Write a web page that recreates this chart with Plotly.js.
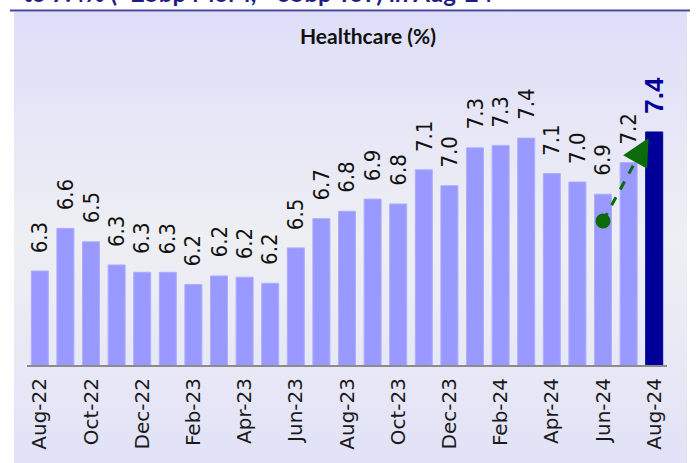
<!DOCTYPE html>
<html>
<head>
<meta charset="utf-8">
<script src="https://cdn.plot.ly/plotly-3.0.1.min.js"></script>
<style>
  html, body { margin: 0; padding: 0; background: #ffffff; }
  #wrap { position: relative; width: 700px; height: 463px; overflow: hidden; }
  #bg { position: absolute; left: 14px; top: 12px; width: 673px; height: 451px;
        background: linear-gradient(to bottom, #dedef9 0%, #e8e8f6 30%, #eeeff3 50%, #eaeaf5 70%, #e2e2f8 100%); }
  #chart { position: absolute; left: 0; top: 0; width: 700px; height: 463px; }
</style>
</head>
<body>
<div id="wrap">
  <div id="bg"></div>
  <div id="chart"></div>
</div>
<script>
// ---- data ----
const months = ['Aug-22','Sep-22','Oct-22','Nov-22','Dec-22','Jan-23','Feb-23','Mar-23','Apr-23','May-23',
                'Jun-23','Jul-23','Aug-23','Sep-23','Oct-23','Nov-23','Dec-23','Jan-24','Feb-24','Mar-24',
                'Apr-24','May-24','Jun-24','Jul-24','Aug-24'];
const values = [6.27, 6.62, 6.51, 6.32, 6.26, 6.26, 6.16, 6.23, 6.22, 6.17,
                6.46, 6.70, 6.76, 6.86, 6.82, 7.10, 6.97, 7.28, 7.30, 7.36,
                7.07, 7.00, 6.90, 7.16, 7.41];
const tickMonths = ['Aug-22','Oct-22','Dec-22','Feb-23','Apr-23','Jun-23','Aug-23','Oct-23','Dec-23',
                    'Feb-24','Apr-24','Jun-24','Aug-24'];
// trend arrow (Jun-24 -> Aug-24), x as category index position: start, head base, tip
const arrowX = [22, 23.3, 23.78];
const arrowY = [6.68, 7.18, 7.36];
const chartTitle = 'Healthcare (%)';
const headline = 'to 7.4% (+25bp MoM; +65bp YoY) in Aug-24';

// ---- styles ----
const last = values.length - 1;
const barColors = values.map((v, i) => i === last ? '#000099' : '#9999ff');
const lineColors = values.map((v, i) => i === last ? '#000099' : '#aeaeff');
const green = '#0b6b0b';

const W = 700, H = 463;
const M = {l: 27, r: 33, t: 60, b: 98};
const pw = W - M.l - M.r, ph = H - M.t - M.b;
const px2paperX = px => (px - M.l) / pw;
const px2paperY = py => (H - M.b - py) / ph;

const bars = {
  type: 'bar', x: months, y: values,
  marker: {color: barColors, line: {color: lineColors, width: 1}},
  hoverinfo: 'skip', showlegend: false
};

const arrowLine = {
  type: 'scatter', mode: 'lines', x: arrowX.slice(0, 2), y: arrowY.slice(0, 2), xaxis: 'x2', yaxis: 'y',
  line: {color: green, width: 3, dash: 'dash'},
  hoverinfo: 'skip', showlegend: false, cliponaxis: false
};

const arrowStart = {
  type: 'scatter', mode: 'markers', x: arrowX.slice(0, 1), y: arrowY.slice(0, 1), xaxis: 'x2', yaxis: 'y',
  marker: {symbol: 'circle', size: 15, color: green, line: {width: 0}},
  hoverinfo: 'skip', showlegend: false, cliponaxis: false
};

const annotations = values.map((v, i) => ({
  x: months[i], y: v, xref: 'x', yref: 'y',
  text: i === last ? '<b>' + v.toFixed(1) + '</b>' : v.toFixed(1),
  textangle: -90, showarrow: false, xanchor: 'center', yanchor: 'bottom',
  yshift: 16,
  font: i === last ? {family: 'Liberation Sans, Arial, sans-serif', size: 26, color: '#000099'}
                   : {family: 'Liberation Sans Narrow, DejaVu Sans Condensed, Liberation Sans, sans-serif', size: 22, color: '#111111'}
}));

// arrow head
annotations.push({
  xref: 'x2', yref: 'y', axref: 'x2', ayref: 'y',
  x: arrowX[2], y: arrowY[2], ax: arrowX[1], ay: arrowY[1],
  text: '', showarrow: true, arrowhead: 2, arrowsize: 2.2, arrowwidth: 2.5, arrowcolor: green,
  standoff: 0, startstandoff: 0
});

annotations.push({
  xref: 'paper', yref: 'paper', x: px2paperX(495), y: px2paperY(9),
  xanchor: 'right', yanchor: 'bottom', showarrow: false, text: '<b>' + headline + '</b>',
  font: {family: 'Lato, Liberation Sans, sans-serif', size: 24, color: '#1e1e82'}
});

const layout = {
  width: W, height: H,
  margin: M,
  paper_bgcolor: 'rgba(0,0,0,0)', plot_bgcolor: 'rgba(0,0,0,0)',
  title: {text: '<b>' + chartTitle + '</b>', xref: 'container', x: 368 / W, xanchor: 'center',
          yref: 'container', y: 1 - 37 / H, yanchor: 'middle',
          font: {family: 'Lato, Liberation Sans, sans-serif', size: 21, color: '#111111'}},
  bargap: 0.335,
  xaxis: {type: 'category', categoryorder: 'array', categoryarray: months,
          range: [-0.5, months.length - 0.5],
          tickmode: 'array', tickvals: tickMonths, ticktext: tickMonths, tickangle: -90,
          ticks: '', ticklabelstandoff: 3,
          tickfont: {family: 'DejaVu Sans, sans-serif', size: 20, color: '#1a1a1a'},
          showline: true, linecolor: '#8c8c8c', linewidth: 2, showgrid: false, zeroline: false,
          fixedrange: true},
  xaxis2: {type: 'linear', overlaying: 'x', range: [-0.5, months.length - 0.5], visible: false,
           fixedrange: true},
  yaxis: {range: [5.5, 8.0], visible: false, showgrid: false, zeroline: false, fixedrange: true},
  shapes: [{type: 'line', xref: 'paper', yref: 'paper',
            x0: px2paperX(10), x1: px2paperX(690), y0: px2paperY(10.5), y1: px2paperY(10.5),
            line: {color: '#45459c', width: 2}}],
  annotations: annotations
};

Plotly.newPlot('chart', [bars, arrowLine, arrowStart], layout, {displayModeBar: false, staticPlot: true});
</script>
</body>
</html>
